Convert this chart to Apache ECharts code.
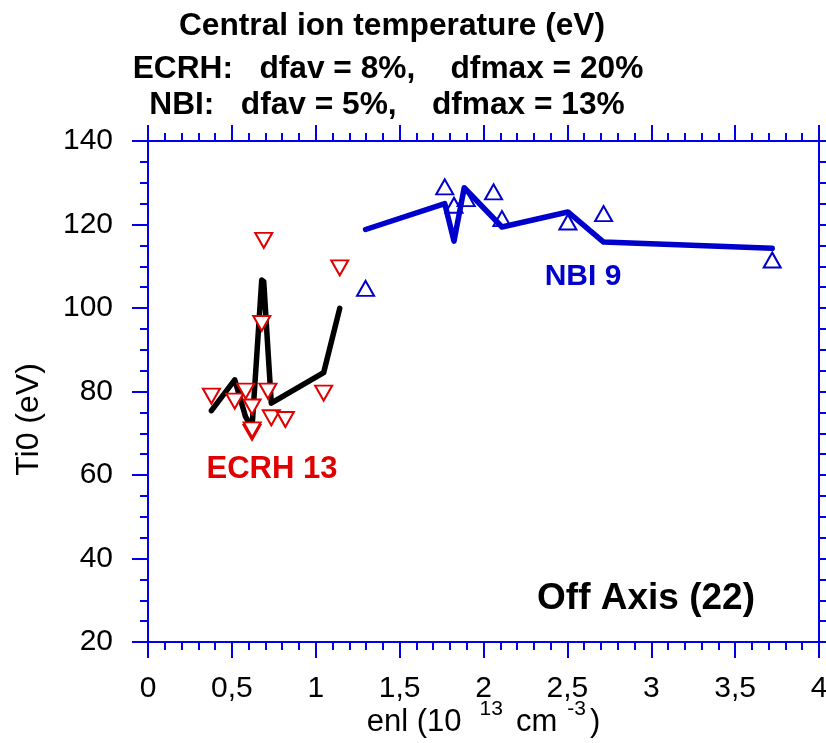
<!DOCTYPE html>
<html><head><meta charset="utf-8">
<script src="https://cdn.jsdelivr.net/npm/echarts@6/dist/echarts.min.js"></script>
<style>html,body{margin:0;padding:0;background:#fff}#c{width:826px;height:743px}</style>
</head><body><div id="c"></div>
<script>
// ECRH measurements (red, inverted triangles)
const ecrhX = [0.378, 0.517, 0.582, 0.620, 0.620, 0.621, 0.678, 0.690, 0.715, 0.735, 0.819, 1.047, 1.143];
const ecrhY = [78.9, 77.7, 80.1, 76.3, 70.2, 70.8, 96.3, 116.2, 80.1, 73.7, 73.3, 79.6, 109.6];
// ECRH model curve (black)
const ecrhFitX = [0.378, 0.517, 0.582, 0.620, 0.621, 0.678, 0.690, 0.715, 0.735, 0.819, 1.047, 1.143];
const ecrhFitY = [75.4, 82.8, 73.9, 71.3, 71.3, 106.7, 106.3, 90.0, 77.2, 79.2, 84.5, 99.9];
// NBI measurements (blue, triangles)
const nbiX = [1.297, 1.769, 1.824, 1.897, 2.060, 2.110, 2.503, 2.716, 3.721];
const nbiY = [104.7, 129.0, 124.6, 126.2, 127.8, 121.4, 120.6, 122.6, 111.5];
// NBI model curve (blue)
const nbiFitX = [1.297, 1.769, 1.824, 1.885, 2.060, 2.110, 2.503, 2.716, 3.721];
const nbiFitY = [118.8, 125.0, 116.0, 128.8, 121.5, 119.4, 123.0, 115.8, 114.3];
// tick labels
const xTickValues = [0, 0.5, 1, 1.5, 2, 2.5, 3, 3.5, 4];
const xTickLabels = ['0', '0,5', '1', '1,5', '2', '2,5', '3', '3,5', '4'];
const yTickValues = [20, 40, 60, 80, 100, 120, 140];
const yTickLabels = ['20', '40', '60', '80', '100', '120', '140'];
const titleLines = ['Central ion temperature (eV)', 'ECRH:   dfav = 8%,    dfmax = 20%', 'NBI:   dfav = 5%,    dfmax = 13%'];

const AX = '#0000ee';
const RED = '#e00000';
const BLUE = '#0000cc';
const FONT = 'Liberation Sans, Arial, sans-serif';
const zip = (a, b) => a.map((v, i) => [v, b[i]]);
const lookup = (vals, labels) => v => { const i = vals.findIndex(t => Math.abs(t - v) < 1e-9); return i >= 0 ? labels[i] : ''; };

function axisCommon() {
  return {
    axisLine: { onZero: false, lineStyle: { color: AX, width: 2 } },
    axisTick: { show: true, inside: false, length: 16, lineStyle: { color: AX, width: 2 } },
    splitLine: { show: false },
    minorSplitLine: { show: false }
  };
}

const chart = echarts.init(document.getElementById('c'), null, { renderer: 'canvas' });
const option = {
  animation: false,
  backgroundColor: '#fff',
  title: titleLines.map((t, i) => ({
    text: t, left: [387, 383, 382][i], top: [5, 48, 84][i], textAlign: 'center',
    textStyle: { fontFamily: FONT, fontWeight: 'bold', fontSize: 31.7, color: '#000' }
  })),
  grid: { left: 148, right: 7, top: 141, bottom: 101, containLabel: false, outerBoundsMode: 'none' },
  xAxis: [
    Object.assign(axisCommon(), {
      type: 'value', position: 'bottom', min: 0, max: 4, interval: 0.5,
      minorTick: { show: true, splitNumber: 5, length: 8, lineStyle: { color: AX, width: 2 } },
      axisLabel: { margin: 32, color: '#000', fontSize: 30, fontFamily: FONT, formatter: lookup(xTickValues, xTickLabels) },
      name: 'enl (10{supA|13}cm{supB|-3})',
      nameLocation: 'middle', nameGap: 57, nameMoveOverlap: false,
      nameTextStyle: { color: '#000', fontSize: 31, fontFamily: FONT,
        rich: {
          supA: { fontSize: 21, fontFamily: FONT, color: '#000', padding: [0, 13, 26, 18] },
          supB: { fontSize: 21, fontFamily: FONT, color: '#000', padding: [0, 4, 26, 10] }
        } }
    }),
    Object.assign(axisCommon(), {
      type: 'value', position: 'top', min: 0, max: 4, interval: 0.5,
      minorTick: { show: true, splitNumber: 5, length: 8, lineStyle: { color: AX, width: 2 } },
      axisLabel: { show: false }
    })
  ],
  yAxis: [
    Object.assign(axisCommon(), {
      type: 'value', position: 'left', min: 20, max: 140, interval: 20,
      minorTick: { show: true, splitNumber: 4, length: 8, lineStyle: { color: AX, width: 2 } },
      axisLabel: { margin: 35, color: '#000', fontSize: 30, fontFamily: FONT, formatter: lookup(yTickValues, yTickLabels) },
      name: 'Ti0 (eV)', nameLocation: 'middle', nameGap: 103, nameRotate: 90, nameMoveOverlap: false,
      nameTextStyle: { color: '#000', fontSize: 32, fontFamily: FONT, padding: [0, 56, 0, 0] }
    }),
    Object.assign(axisCommon(), {
      type: 'value', position: 'right', min: 20, max: 140, interval: 20,
      minorTick: { show: true, splitNumber: 4, length: 8, lineStyle: { color: AX, width: 2 } },
      axisLabel: { show: false }
    })
  ],
  graphic: [
    { type: 'text', x: 583, y: 277, style: { text: 'NBI 9', align: 'center', verticalAlign: 'middle', fill: BLUE, font: 'bold 30px ' + FONT } },
    { type: 'text', x: 272, y: 469, style: { text: 'ECRH 13', align: 'center', verticalAlign: 'middle', fill: RED, font: 'bold 31px ' + FONT } },
    { type: 'text', x: 646, y: 599, style: { text: 'Off Axis (22)', align: 'center', verticalAlign: 'middle', fill: '#000', font: 'bold 37px ' + FONT } }
  ],
  series: [
    { type: 'line', name: 'ECRH fit', data: zip(ecrhFitX, ecrhFitY), showSymbol: false, symbol: 'none',
      lineStyle: { color: '#000', width: 5.5, cap: 'round', join: 'round' }, z: 2 },
    { type: 'line', name: 'NBI fit', data: zip(nbiFitX, nbiFitY), showSymbol: false, symbol: 'none',
      lineStyle: { color: BLUE, width: 5.5, cap: 'round', join: 'round' }, z: 2 },
    { type: 'scatter', name: 'ECRH', data: zip(ecrhX, ecrhY), symbol: 'triangle', symbolRotate: 180, symbolSize: [17, 15],
      itemStyle: { color: '#fff', borderColor: RED, borderWidth: 2, opacity: 1 }, z: 3 },
    { type: 'scatter', name: 'NBI', data: zip(nbiX, nbiY), symbol: 'triangle', symbolSize: [17, 15],
      itemStyle: { color: 'rgba(255,255,255,0)', borderColor: BLUE, borderWidth: 2, opacity: 1 }, z: 3 }
  ]
};
chart.setOption(option);
</script></body></html>
